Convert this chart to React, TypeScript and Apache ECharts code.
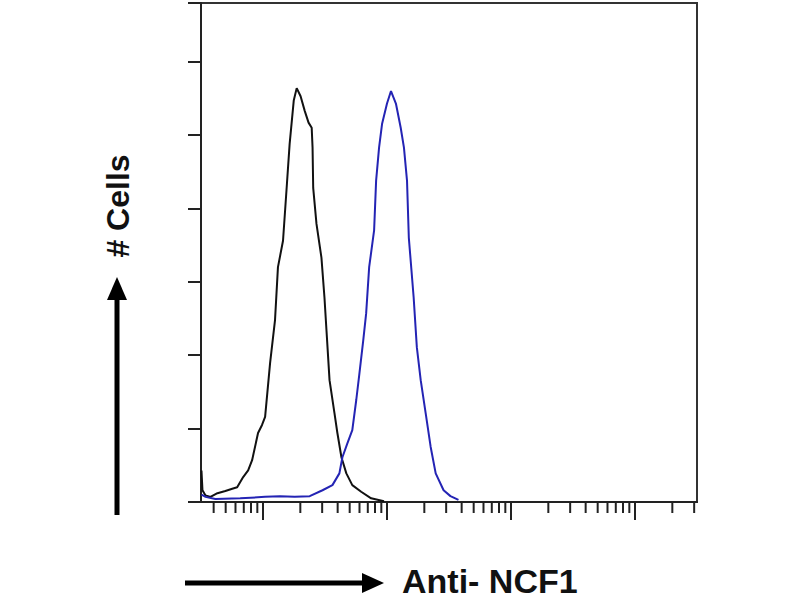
import React, { useEffect, useRef } from "react";
import * as echarts from "echarts";

// fluorescence intensity (log scale) vs cell count
const controlSeries: [number, number][] = [
  [3.19, 43], [3.25, 16], [3.44, 9], [3.77, 7], [4.29, 12], [4.97, 15],
  [5.65, 18], [6.19, 20], [6.92, 34], [7.59, 43], [8.17, 57], [9.12, 94],
  [9.82, 105], [10.4, 116], [11.4, 189], [12.5, 248], [13.2, 320], [14.5, 356],
  [15.6, 434], [16.4, 488], [17.7, 547], [18.7, 564], [20.1, 553], [21.7, 533],
  [23.3, 517], [24.7, 510], [25.1, 483], [25.4, 428], [27.0, 379], [29.6, 333],
  [31.3, 279], [32.5, 234], [34.4, 166], [37.7, 121], [39.8, 94], [42.9, 61],
  [47.0, 39], [52.5, 23], [61.9, 14], [74.5, 5], [94.6, 1],
];

const ncf1Series: [number, number][] = [
  [3.19, 10], [3.44, 7], [4.13, 4], [6.55, 5], [10.4, 7], [13.7, 8],
  [18.0, 7], [23.8, 8], [30.2, 16], [36.3, 23], [41.3, 39], [43.7, 61],
  [47.9, 80], [52.5, 98], [56.5, 139], [59.7, 173], [64.3, 220], [67.9, 257],
  [71.8, 320], [78.7, 370], [81.7, 438], [86.3, 483], [91.2, 515], [100, 543],
  [107.7, 560], [118, 543], [129, 510], [137, 483], [145, 438], [150, 360],
  [164, 279], [174, 211], [187, 166], [205, 121], [225, 75], [247, 39],
  [286, 16], [325, 8], [377, 3],
];

const majorTicks = [10, 100, 1000, 10000];
const minorTicks = [
  4, 5, 6, 7, 8, 9,
  20, 30, 40, 50, 60, 70, 80, 90,
  200, 300, 400, 500, 600, 700, 800, 900,
  2000, 3000, 4000, 5000, 6000, 7000, 8000, 9000,
  20000, 30000,
];

const tickRenderer = (len: number) => (params: any, api: any) => {
  const p = api.coord([api.value(0), 0]);
  return {
    type: "line",
    shape: { x1: p[0], y1: p[1], x2: p[0], y2: p[1] + len },
    style: { stroke: "#222", lineWidth: 2 },
  };
};

const App = () => {
  const chartRef = useRef<HTMLDivElement>(null);

  useEffect(() => {
    const chartDom = chartRef.current;
    if (!chartDom) return;
    const myChart = echarts.init(chartDom, undefined, { renderer: "svg" });

    const option: echarts.EChartsOption = {
      animation: false,
      backgroundColor: "#fff",
      grid: {
        left: 201,
        right: 103,
        top: 3,
        bottom: 98,
        show: true,
        borderColor: "#333",
        borderWidth: 2,
      },
      xAxis: {
        type: "log",
        logBase: 10,
        min: Math.sqrt(10),
        max: 31623,
        axisLine: { show: true, lineStyle: { color: "#222", width: 2 } },
        axisTick: { show: false },
        axisLabel: { show: false },
        splitLine: { show: false },
      },
      yAxis: {
        type: "value",
        min: 0,
        max: 680,
        interval: 100,
        axisLine: { show: true, lineStyle: { color: "#222", width: 2 } },
        axisTick: { show: true, length: 13, lineStyle: { color: "#222", width: 2 } },
        axisLabel: { show: false },
        splitLine: { show: false },
      },
      series: [
        {
          name: "Control",
          type: "line",
          data: controlSeries,
          showSymbol: false,
          lineStyle: { color: "#111", width: 2 },
        },
        {
          name: "Anti- NCF1",
          type: "line",
          data: ncf1Series,
          showSymbol: false,
          lineStyle: { color: "#2424b4", width: 2 },
        },
        {
          type: "custom",
          data: majorTicks.map((v) => [v, 0]),
          renderItem: tickRenderer(18) as any,
          clip: false,
          silent: true,
        },
        {
          type: "custom",
          data: minorTicks.map((v) => [v, 0]),
          renderItem: tickRenderer(11) as any,
          clip: false,
          silent: true,
        },
      ],
      graphic: [
        // vertical arrow + label
        {
          type: "line",
          shape: { x1: 117, y1: 515, x2: 117, y2: 296 },
          style: { stroke: "#000", lineWidth: 5 },
        },
        {
          type: "polygon",
          shape: { points: [[117, 277], [107, 300], [127, 300]] },
          style: { fill: "#000" },
        },
        {
          type: "text",
          x: 118,
          y: 206,
          rotation: Math.PI / 2,
          style: {
            text: "# Cells",
            fontFamily: "Liberation Sans",
            fontWeight: "bold",
            fontSize: 32,
            fill: "#111",
            align: "center",
            verticalAlign: "middle",
          },
        },
        // horizontal arrow + label
        {
          type: "line",
          shape: { x1: 185, y1: 583, x2: 366, y2: 583 },
          style: { stroke: "#000", lineWidth: 5 },
        },
        {
          type: "polygon",
          shape: { points: [[384, 583], [362, 573], [362, 593]] },
          style: { fill: "#000" },
        },
        {
          type: "text",
          x: 402,
          y: 581,
          style: {
            text: "Anti- NCF1",
            fontFamily: "Liberation Sans",
            fontWeight: "bold",
            fontSize: 34,
            fill: "#111",
            align: "left",
            verticalAlign: "middle",
          },
        },
      ],
    };

    myChart.setOption(option);

    return () => {
      myChart.dispose();
    };
  }, []);

  return (
    <div
      ref={chartRef}
      style={{ width: "800px", height: "600px", position: "absolute", left: 0, top: 0 }}
    />
  );
};

export default App;
